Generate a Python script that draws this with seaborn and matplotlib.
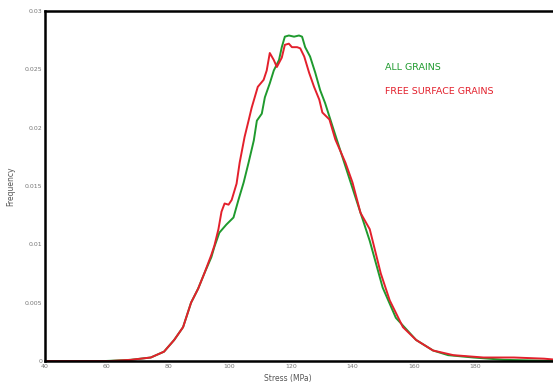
import matplotlib
matplotlib.use("Agg")
import matplotlib.pyplot as plt
import seaborn as sns
import pandas as pd

# Data
all_stress = [40.0, 59.7, 67.9, 74.4, 78.7, 82.0, 84.9, 87.5, 89.8, 91.8, 94.1, 95.1, 96.7, 99.0,
              101.3, 102.9, 104.6, 106.2, 107.9, 108.9, 110.5, 111.5, 113.1, 114.4, 116.1, 117.0,
              118.0, 119.3, 121.0, 122.6, 123.6, 124.6, 126.2, 127.9, 129.5, 131.1, 133.4, 136.7,
              141.0, 145.6, 149.8, 154.1, 160.7, 166.2, 171.1, 179.3, 189.2, 206.6]
all_freq = [0.0, 0.0, 0.0001, 0.0003, 0.0008, 0.0018, 0.0029, 0.0050, 0.0062, 0.0075, 0.0089, 0.0098,
            0.0110, 0.0117, 0.0123, 0.0138, 0.0153, 0.0170, 0.0189, 0.0206, 0.0212, 0.0226, 0.0238,
            0.0249, 0.0258, 0.0269, 0.0278, 0.0279, 0.0278, 0.0279, 0.0278, 0.0269, 0.0261, 0.0247,
            0.0232, 0.0221, 0.0202, 0.0175, 0.0140, 0.0103, 0.0063, 0.0037, 0.0018, 0.0009, 0.0005,
            0.0003, 0.0001, 0.0]

free_stress = [40.0, 61.3, 67.9, 74.4, 78.7, 82.0, 84.9, 87.5, 89.8, 91.8, 94.1, 95.1, 96.4, 97.4,
               98.4, 99.7, 100.7, 102.3, 103.3, 104.9, 106.2, 107.2, 108.2, 109.2, 111.1, 112.1,
               113.1, 114.4, 115.4, 117.0, 118.0, 119.3, 120.3, 122.0, 123.0, 124.3, 125.9, 127.5,
               129.2, 130.2, 132.5, 134.4, 137.7, 140.0, 142.6, 145.6, 147.5, 149.2, 152.1, 156.4,
               160.7, 166.2, 172.8, 182.6, 192.5, 202.3, 206.6]
free_freq = [0.0, 0.0, 0.0001, 0.0003, 0.0008, 0.0018, 0.0029, 0.0050, 0.0062, 0.0075, 0.0091, 0.0099,
             0.0113, 0.0128, 0.0135, 0.0134, 0.0138, 0.0152, 0.0170, 0.0192, 0.0206, 0.0217, 0.0226,
             0.0235, 0.0241, 0.0249, 0.0264, 0.0258, 0.0252, 0.0260, 0.0271, 0.0272, 0.0269, 0.0269,
             0.0268, 0.0261, 0.0247, 0.0235, 0.0224, 0.0213, 0.0207, 0.0190, 0.0170, 0.0153, 0.0127,
             0.0113, 0.0093, 0.0075, 0.0052, 0.0029, 0.0018, 0.0009, 0.0005, 0.0003, 0.0003, 0.0002,
             0.0001]

series_names = ["ALL GRAINS", "FREE SURFACE GRAINS"]
series_colors = ["#1f9a2e", "#e3202c"]
x_ticks = [40, 60, 80, 100, 120, 140, 160, 180]
y_ticks = [0, 0.005, 0.01, 0.015, 0.02, 0.025, 0.03]
y_tick_labels = ["0", "0.005", "0.01", "0.015", "0.02", "0.025", "0.03"]

df = pd.concat([
    pd.DataFrame({"stress": all_stress, "freq": all_freq, "series": series_names[0]}),
    pd.DataFrame({"stress": free_stress, "freq": free_freq, "series": series_names[1]}),
])

sns.set_style("white")
fig = plt.figure(figsize=(5.53, 3.84), dpi=100)
ax = fig.add_axes([45 / 553, 1 - 361 / 384, 1 - 45 / 553 + 0.01, (361 - 11) / 384])

sns.lineplot(data=df, x="stress", y="freq", hue="series", palette=dict(zip(series_names, series_colors)),
             hue_order=series_names, linewidth=1.4, legend=False, ax=ax, estimator=None, sort=False)

ax.set_xlim(40, 207)
ax.set_ylim(0, 0.03)
ax.set_xticks(x_ticks)
ax.set_xticklabels([str(t) for t in x_ticks])
ax.set_yticks(y_ticks)
ax.set_yticklabels(y_tick_labels)
ax.tick_params(axis="both", direction="in", length=3, width=1.2, labelsize=4.5,
               labelcolor="#777777", color="black", pad=2)
ax.set_xlabel("Stress (MPa)", fontsize=5.5, color="#555555")
ax.set_ylabel("Frequency", fontsize=5.5, color="#555555")
ax_w = 1 - 45 / 553 + 0.01
ax.xaxis.set_label_coords((288 - 45) / 553 / ax_w, -0.038)
ax.yaxis.set_label_coords(-(45 - 15) / 553 / ax_w, 0.5)

for s in ["left", "bottom", "top"]:
    ax.spines[s].set_color("black")
    ax.spines[s].set_linewidth(1.8)
ax.spines["right"].set_visible(False)

fig.text(385 / 553, 1 - 67 / 384, series_names[0], color=series_colors[0], fontsize=6.8, va="center")
fig.text(385 / 553, 1 - 92 / 384, series_names[1], color=series_colors[1], fontsize=6.8, va="center")

fig.savefig("out.png", dpi=100)
